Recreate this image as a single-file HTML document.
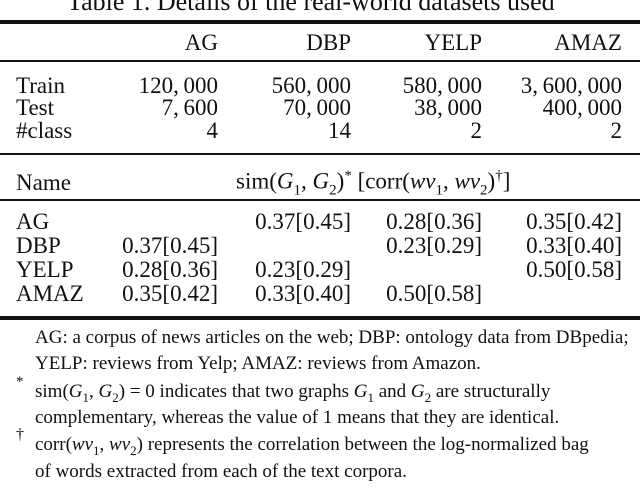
<!DOCTYPE html>
<html><head><meta charset="utf-8"><style>
body{margin:0;width:640px;height:488px;background:#fff;overflow:hidden;position:relative;font-family:"Liberation Serif",serif;color:#111}
.t{position:absolute;white-space:nowrap;font-size:23px;line-height:1}
.r{position:absolute;white-space:nowrap;font-size:23px;line-height:1;text-align:right}
.f{position:absolute;white-space:nowrap;font-size:19px;line-height:1;left:35px}
.hl{position:absolute;left:0;width:640px;background:#111}
i{font-style:italic}
</style></head><body>
<div class="t" style="left:67px;top:-11px;font-size:26px">Table 1. Details of the real-world datasets used</div>
<div class="hl" style="top:20px;height:4px"></div>
<div class="r" style="right:422px;top:31px">AG</div>
<div class="r" style="right:289px;top:31px">DBP</div>
<div class="r" style="right:158px;top:31px">YELP</div>
<div class="r" style="right:18px;top:31px">AMAZ</div>
<div class="hl" style="top:60px;height:2px"></div>
<div class="t" style="left:16px;top:74px">Train</div>
<div class="t" style="left:16px;top:96px">Test</div>
<div class="t" style="left:16px;top:119px">#class</div>
<div class="r" style="right:422px;top:74px">120,&thinsp;000</div>
<div class="r" style="right:289px;top:74px">560,&thinsp;000</div>
<div class="r" style="right:158px;top:74px">580,&thinsp;000</div>
<div class="r" style="right:18px;top:74px">3,&thinsp;600,&thinsp;000</div>
<div class="r" style="right:422px;top:96px">7,&thinsp;600</div>
<div class="r" style="right:289px;top:96px">70,&thinsp;000</div>
<div class="r" style="right:158px;top:96px">38,&thinsp;000</div>
<div class="r" style="right:18px;top:96px">400,&thinsp;000</div>
<div class="r" style="right:422px;top:119px">4</div>
<div class="r" style="right:289px;top:119px">14</div>
<div class="r" style="right:158px;top:119px">2</div>
<div class="r" style="right:18px;top:119px">2</div>
<div class="hl" style="top:153px;height:2px"></div>
<div class="t" style="left:16px;top:171px">Name</div>
<div class="t" style="left:236px;top:169px">sim(<i>G</i><sub style="font-size:15px">1</sub>, <i>G</i><sub style="font-size:15px">2</sub>)<sup style="font-size:15px">*</sup> [corr(<i>wv</i><sub style="font-size:15px">1</sub>, <i>wv</i><sub style="font-size:15px">2</sub>)<sup style="font-size:15px">†</sup>]</div>
<div class="hl" style="top:199px;height:2px"></div>
<div class="t" style="left:16px;top:210px">AG</div>
<div class="t" style="left:16px;top:234px">DBP</div>
<div class="t" style="left:16px;top:258px">YELP</div>
<div class="t" style="left:16px;top:282px">AMAZ</div>
<div class="r" style="right:289px;top:210px">0.37[0.45]</div>
<div class="r" style="right:158px;top:210px">0.28[0.36]</div>
<div class="r" style="right:18px;top:210px">0.35[0.42]</div>
<div class="r" style="right:422px;top:234px">0.37[0.45]</div>
<div class="r" style="right:158px;top:234px">0.23[0.29]</div>
<div class="r" style="right:18px;top:234px">0.33[0.40]</div>
<div class="r" style="right:422px;top:258px">0.28[0.36]</div>
<div class="r" style="right:289px;top:258px">0.23[0.29]</div>
<div class="r" style="right:18px;top:258px">0.50[0.58]</div>
<div class="r" style="right:422px;top:282px">0.35[0.42]</div>
<div class="r" style="right:289px;top:282px">0.33[0.40]</div>
<div class="r" style="right:158px;top:282px">0.50[0.58]</div>
<div class="hl" style="top:316px;height:4px"></div>
<div class="f" style="top:328px">AG: a corpus of news articles on the web; DBP: ontology data from DBpedia;</div>
<div class="f" style="top:354px">YELP: reviews from Yelp; AMAZ: reviews from Amazon.</div>
<div class="t" style="left:16px;top:375px;font-size:15px">*</div>
<div class="f" style="top:382px">sim(<i>G</i><sub style="font-size:13px">1</sub>, <i>G</i><sub style="font-size:13px">2</sub>) = 0 indicates that two graphs <i>G</i><sub style="font-size:13px">1</sub> and <i>G</i><sub style="font-size:13px">2</sub> are structurally</div>
<div class="f" style="top:408px">complementary, whereas the value of 1 means that they are identical.</div>
<div class="t" style="left:16px;top:427px;font-size:16px">†</div>
<div class="f" style="top:435px">corr(<i>wv</i><sub style="font-size:13px">1</sub>, <i>wv</i><sub style="font-size:13px">2</sub>) represents the correlation between the log-normalized bag</div>
<div class="f" style="top:462px">of words extracted from each of the text corpora.</div>
</body></html>
